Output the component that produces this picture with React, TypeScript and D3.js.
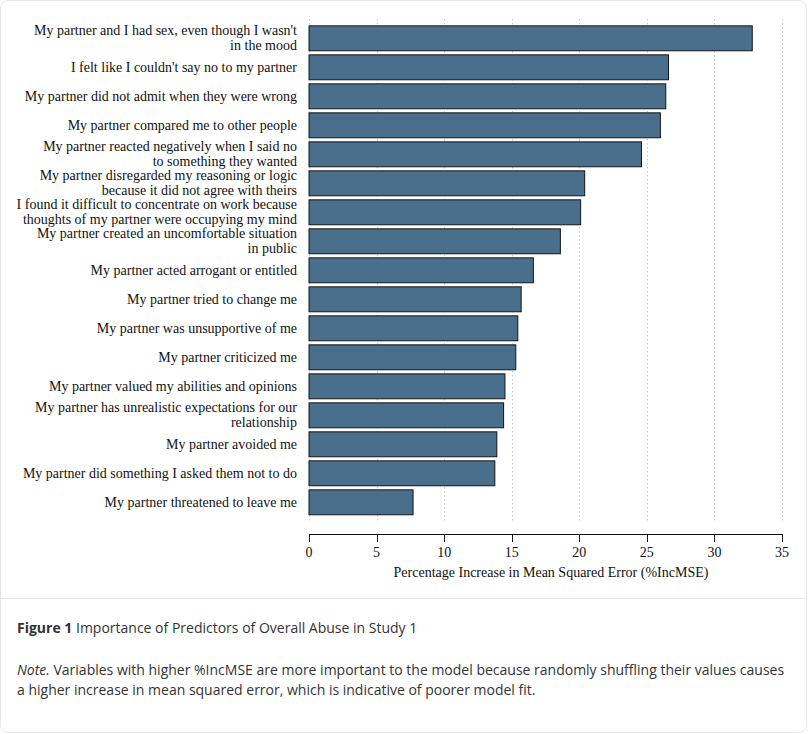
import React from "react";
import * as d3 from "d3";

// Predictor labels (line breaks as displayed) and their %IncMSE importance values
const predictors: string[][] = [
  ["My partner and I had sex, even though I wasn't", "in the mood"],
  ["I felt like I couldn't say no to my partner"],
  ["My partner did not admit when they were wrong"],
  ["My partner compared me to other people"],
  ["My partner reacted negatively when I said no", "to something they wanted"],
  ["My partner disregarded my reasoning or logic", "because it did not agree with theirs"],
  ["I found it difficult to concentrate on work because", "thoughts of my partner were occupying my mind"],
  ["My partner created an uncomfortable situation", "in public"],
  ["My partner acted arrogant or entitled"],
  ["My partner tried to change me"],
  ["My partner was unsupportive of me"],
  ["My partner criticized me"],
  ["My partner valued my abilities and opinions"],
  ["My partner has unrealistic expectations for our", "relationship"],
  ["My partner avoided me"],
  ["My partner did something I asked them not to do"],
  ["My partner threatened to leave me"],
];

const incMSE: number[] = [
  32.8, 26.6, 26.4, 26.0, 24.6, 20.4, 20.1, 18.6, 16.6, 15.7, 15.45, 15.3, 14.5,
  14.4, 13.9, 13.75, 7.7,
];

const xTicks: number[] = [0, 5, 10, 15, 20, 25, 30, 35];

const axisTitle = "Percentage Increase in Mean Squared Error (%IncMSE)";
const figureLabel = "Figure 1";
const figureTitle = " Importance of Predictors of Overall Abuse in Study 1";
const noteLines: string[] = [
  " Variables with higher %IncMSE are more important to the model because randomly shuffling their values causes",
  "a higher increase in mean squared error, which is indicative of poorer model fit.",
];

const W = 808;
const H = 734;
const serif = "'Liberation Serif', 'Times New Roman', serif";
const sans = "'Open Sans', 'Noto Sans', sans-serif";

export default function App() {
  const keys = predictors.map((_, i) => String(i));
  const x = d3.scaleLinear().domain([0, 35]).range([309, 782]);
  const y = d3
    .scaleBand<string>()
    .domain(keys)
    .range([23.8, 516.8])
    .paddingInner(0.14)
    .paddingOuter(0.07);

  const axisY = 534;

  return (
    <svg
      width={W}
      height={H}
      style={{ position: "absolute", left: 0, top: 0, display: "block" }}
    >
      {/* card frame */}
      <rect
        x={0.5}
        y={0.5}
        width={W - 2}
        height={H - 2}
        rx={8}
        fill="#fff"
        stroke="#e6e6e6"
      />
      <line x1={0.5} x2={W - 1.5} y1={598.5} y2={598.5} stroke="#e6e6e6" />

      {/* dotted vertical gridlines */}
      {xTicks.map((t) => (
        <line
          key={"g" + t}
          x1={Math.round(x(t)) + 0.5}
          x2={Math.round(x(t)) + 0.5}
          y1={19}
          y2={521}
          stroke="#c9c9c9"
          strokeDasharray="1.5,2.5"
        />
      ))}

      {/* bars */}
      {incMSE.map((v, i) => (
        <rect
          key={"b" + i}
          x={x(0)}
          y={y(String(i))!}
          width={x(v) - x(0)}
          height={y.bandwidth()}
          fill="#4a6f8d"
          stroke="#151515"
          strokeWidth={1}
        />
      ))}

      {/* category labels */}
      {predictors.map((lines, i) => {
        const cy = y(String(i))! + y.bandwidth() / 2;
        const first = lines.length === 1 ? cy + 4.5 : cy - 3.5;
        return (
          <text
            key={"l" + i}
            textAnchor="end"
            fontFamily={serif}
            fontSize={14}
            fill="#111"
          >
            {lines.map((ln, j) => (
              <tspan key={j} x={297} y={first + j * 14.8}>
                {ln}
              </tspan>
            ))}
          </text>
        );
      })}

      {/* x axis */}
      <line x1={x(0)} x2={x(35)} y1={axisY + 0.5} y2={axisY + 0.5} stroke="#111" />
      {xTicks.map((t) => (
        <g key={"t" + t}>
          <line
            x1={Math.round(x(t)) + 0.5}
            x2={Math.round(x(t)) + 0.5}
            y1={axisY}
            y2={axisY + 8}
            stroke="#111"
          />
          <text
            x={x(t)}
            y={557}
            textAnchor="middle"
            fontFamily={serif}
            fontSize={14}
            fill="#111"
          >
            {t}
          </text>
        </g>
      ))}
      <text
        x={551}
        y={577}
        textAnchor="middle"
        fontFamily={serif}
        fontSize={14}
        fill="#111"
      >
        {axisTitle}
      </text>

      {/* caption */}
      <text x={17} y={633} fontFamily={sans} fontSize={14} fill="#333">
        <tspan fontWeight="bold">{figureLabel}</tspan>
        <tspan>{figureTitle}</tspan>
      </text>
      <text x={17} y={675} fontFamily={sans} fontSize={14} fill="#333">
        <tspan fontStyle="italic">Note.</tspan>
        <tspan>{noteLines[0]}</tspan>
      </text>
      <text x={17} y={695} fontFamily={sans} fontSize={14} fill="#333">
        {noteLines[1]}
      </text>
    </svg>
  );
}
